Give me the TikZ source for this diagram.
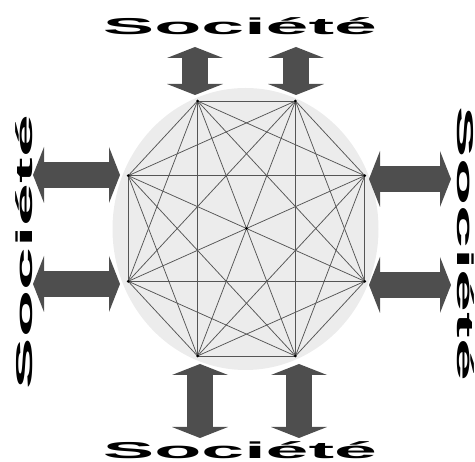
\documentclass[tikz,border=0pt]{standalone}
\usepackage{graphicx}
\usepackage{fontspec}
\setmainfont{Liberation Sans}
\usetikzlibrary{arrows.meta}
\definecolor{arrowgray}{RGB}{78,78,78}
\definecolor{discgray}{RGB}{236,236,236}
\definecolor{edgegray}{RGB}{85,85,85}
\tikzset{
  society/.style={font=\fontsize{23}{23}\selectfont\bfseries, inner sep=0pt, anchor=base},
  bigarrow/.style={draw=arrowgray, line width=26pt,
    {Triangle[length=11pt,width=56pt,line width=0pt]}-{Triangle[length=11pt,width=56pt,line width=0pt]}},
  link/.style={draw=edgegray, line width=0.75pt},
  vertex/.style={circle, fill=black, inner sep=0pt, minimum size=3pt}
}
\newcommand{\soc}{\scalebox{3.35}[1]{Société}}
\begin{document}
\begin{tikzpicture}[x=1pt,y=1pt]
    \useasboundingbox (0,0) rectangle (475,462);
    % ---- disc ----
    \fill[discgray] (245.5,233) ellipse [x radius=133, y radius=141];
    % ---- complete graph on the octagon ----
    \begin{scope}[shift={(246.5,233.5)}]
      \foreach \i in {1,...,8}
        \coordinate (v\i) at ({22.5+45*\i}:128 and 138);
    \end{scope}
    \foreach \i [evaluate=\i as \k using int(\i+1)] in {1,...,7}
      \foreach \j in {\k,...,8}
        \draw[link] (v\i) -- (v\j);
    \foreach \i in {1,...,8}
      \node[vertex] (d\i) at (v\i) {};
    \node[vertex] (hub) at (246.5,233.5) {};
    % ---- arrows ----
    \coordinate (n1a) at (195,415); \coordinate (n1b) at (195,367);
    \coordinate (n2a) at (296,415); \coordinate (n2b) at (296,367);
    \coordinate (s1a) at (200,98);  \coordinate (s1b) at (200,24);
    \coordinate (s2a) at (299,98);  \coordinate (s2b) at (299,24);
    \coordinate (w1a) at (33,287);  \coordinate (w1b) at (120,287);
    \coordinate (w2a) at (33,178);  \coordinate (w2b) at (120,178);
    \coordinate (e1a) at (369,283); \coordinate (e1b) at (451,283);
    \coordinate (e2a) at (369,177); \coordinate (e2b) at (451,177);
    \foreach \p in {n1,n2,s1,s2,w1,w2,e1,e2}
      \draw[bigarrow] (\p a) -- (\p b);
    % ---- labels ----
    \node[society] (socN) at (240,427) {\soc};
    \node[society] (socS) at (240,3.5) {\soc};
    \node[society, rotate=90] (socW) at (32,210) {\soc};
    \node[society, rotate=-90] (socE) at (457,218) {\soc};
\end{tikzpicture}
\end{document}
